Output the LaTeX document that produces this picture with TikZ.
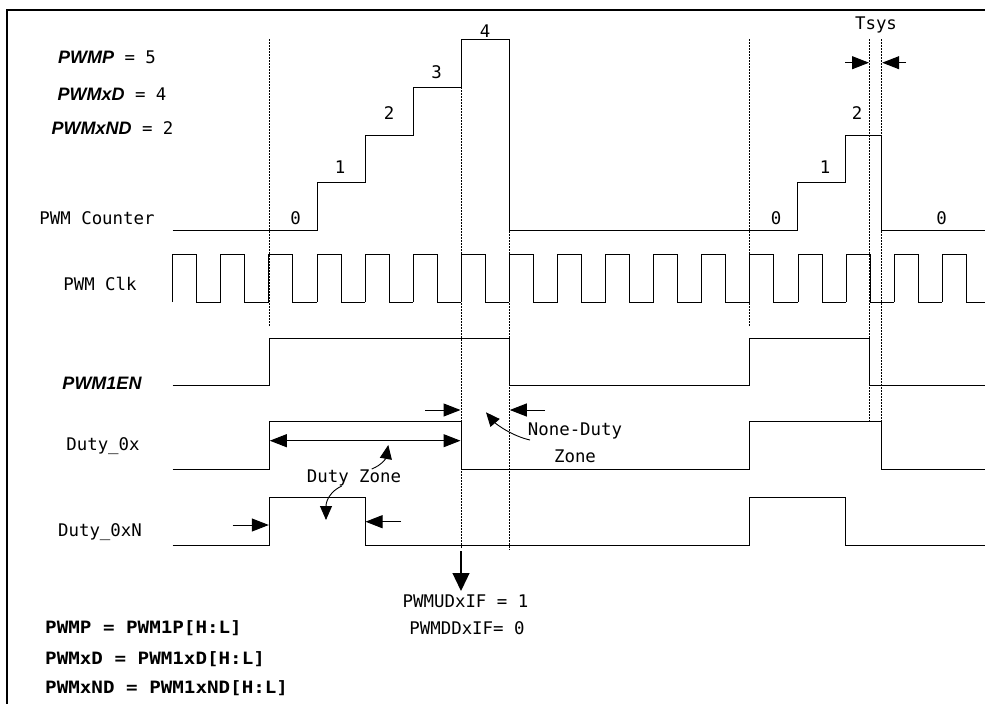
\documentclass[tikz,border=0pt]{standalone}
\usepackage{fontspec}
\setmainfont{DejaVu Sans Mono}
\newfontfamily\regfont{Liberation Sans}
\newfontfamily\defsfont[FakeStretch=1.13]{DejaVu Sans Mono}
\usetikzlibrary{arrows.meta}

\tikzset{
  sig/.style={line width=1pt, line join=miter},
  guide/.style={line width=0.7pt, dash pattern=on 1.6pt off 1.4pt},
  ptr/.style={line width=1pt, -{Triangle[length=17pt,width=13pt]}},
  ptrs/.style={line width=0.9pt, -{Triangle[length=14pt,width=12pt]}},
  txt/.style={font=\fontsize{17.4}{20}\selectfont, inner sep=0pt},
  regname/.style={font=\regfont\bfseries\itshape\fontsize{18}{20}\selectfont, inner sep=0pt}
}

\begin{document}
\begin{tikzpicture}[x=1pt, y=-1pt]
  \clip (0,0) rectangle (985,704);
  \draw[line width=1.6pt] (985,10) -- (7,10) -- (7,704);

  % register values
  \node[txt] (pwmp) at (107,57.3) {{\regfont\bfseries\itshape\fontsize{18}{20}\selectfont PWMP} = 5};
  \node[txt] (pwmxd) at (112,94.3) {{\regfont\bfseries\itshape\fontsize{18}{20}\selectfont PWMxD} = 4};
  \node[txt] (pwmxnd) at (112.5,128.3) {{\regfont\bfseries\itshape\fontsize{18}{20}\selectfont PWMxND} = 2};

  % signal names
  \node[txt] (lcnt) at (97,218) {PWM Counter};
  \node[txt] (lclk) at (100,284) {PWM Clk};
  \node[regname] (len) at (102,383) {PWM1EN};
  \node[txt] (ldo) at (103,445.7) {Duty\_0x};
  \node[txt] (ldon) at (100,532) {Duty\_0xN};

  % guide lines
  \draw[guide] (269.3,39.3) -- (269.3,326);
  \draw[guide] (461,39.3) -- (461,548);
  \draw[guide] (509.3,39.3) -- (509.3,550);
  \draw[guide] (749.3,39.3) -- (749.3,326);
  \draw[guide] (869.5,39.3) -- (869.5,421.7);
  \draw[guide] (881.7,39.3) -- (881.7,421.7);

  % counter
  \draw[sig] (172.7,230) -- (317,230) -- (317,182.7) -- (365,182.7) -- (365,135)
    -- (413,135) -- (413,87.3) -- (461,87.3) -- (461,39.3) -- (509.3,39.3)
    -- (509.3,230) -- (797.5,230) -- (797.5,182.7) -- (845.7,182.7) -- (845.7,135)
    -- (881.7,135) -- (881.7,230) -- (985,230);
  \begin{scope}[every node/.style={txt}]
    \node (c0) at (295.7,218) {0};
    \node (c1) at (340,166.7) {1};
    \node (c2) at (389,113) {2};
    \node (c3) at (436.7,71.7) {3};
    \node (c4) at (485,31) {4};
    \node (d0) at (776,218) {0};
    \node (d1) at (825,167) {1};
    \node (d2) at (857,113) {2};
    \node (e0) at (941.7,218) {0};
    \node (tsys) at (876,25) {Tsys};
  \end{scope}

  % clock
  \foreach \k in {0,...,16}
    \draw[sig] ({172.7+48.1*\k},302) -- ({172.7+48.1*\k},254.7) -- ({196.7+48.1*\k},254.7)
      -- ({196.7+48.1*\k},302) -- ({220.8+48.1*\k},302);

  % PWM1EN
  \draw[sig] (172.7,385.7) -- (269.3,385.7) -- (269.3,338) -- (509.3,338) -- (509.3,385.7)
    -- (749.3,385.7) -- (749.3,338) -- (869.5,338) -- (869.5,385.7) -- (985,385.7);
  % Duty_0x
  \draw[sig] (172.7,469.3) -- (269.3,469.3) -- (269.3,421.7) -- (461,421.7) -- (461,469.3)
    -- (749.3,469.3) -- (749.3,421.7) -- (881.7,421.7) -- (881.7,469.3) -- (985,469.3);
  % Duty_0xN
  \draw[sig] (172.7,545) -- (269.3,545) -- (269.3,497.5) -- (365,497.5) -- (365,545)
    -- (749.3,545) -- (749.3,497.5) -- (845.7,497.5) -- (845.7,545) -- (985,545);

  % Tsys marks
  \coordinate (ts1) at (845,62.7);
  \coordinate (ts2) at (869,62.7);
  \coordinate (ts3) at (906,62.7);
  \coordinate (ts4) at (882.2,62.7);
  \draw[ptr] (ts1) -- (ts2);
  \draw[ptr] (ts3) -- (ts4);

  % none-duty zone
  \coordinate (nd1) at (425,410);
  \coordinate (nd2) at (460.5,410);
  \coordinate (nd3) at (545,410);
  \coordinate (nd4) at (509.8,410);
  \draw[ptr] (nd1) -- (nd2);
  \draw[ptr] (nd3) -- (nd4);
  \node[txt] (ndz) at (575,430.7) {None-Duty};
  \node[txt] (ndz2) at (575,456.7) {Zone};
  \coordinate (ndc) at (530,440);
  \coordinate (ndt) at (486,412.3);
  \draw[ptrs] (ndc) .. controls (512,436) and (496,424) .. (ndt);

  % duty zone
  \coordinate (dz1) at (269.8,440.7);
  \coordinate (dz2) at (460.5,440.7);
  \draw[line width=1pt, {Triangle[length=17pt,width=13pt]}-{Triangle[length=17pt,width=13pt]}] (dz1) -- (dz2);
  \node[txt] (dzl) at (354,477.7) {Duty Zone};
  \coordinate (dza) at (371.7,469);
  \coordinate (dzb) at (388.3,445);
  \draw[ptrs] (dza) .. controls (382,465) and (386,458) .. (dzb);
  \coordinate (dzc) at (341.7,486);
  \coordinate (dzd) at (326,520);
  \draw[ptrs] (dzc) .. controls (331,491) and (326,500) .. (dzd);

  \coordinate (dn1) at (232.7,525);
  \coordinate (dn2) at (268.8,525);
  \coordinate (dn3) at (401,521.7);
  \coordinate (dn4) at (365.5,521.7);
  \draw[ptr] (dn1) -- (dn2);
  \draw[ptr] (dn3) -- (dn4);

  % flag
  \coordinate (fl1) at (461,551);
  \coordinate (fl2) at (461,591);
  \draw[line width=1.3pt, -{Triangle[length=18pt,width=17pt]}] (fl1) -- (fl2);
  \node[txt] (fud) at (465.5,601.7) {PWMUDxIF = 1};
  \node[txt] (fdd) at (467,628.3) {PWMDDxIF= 0};

  % definitions
  \begin{scope}[every node/.style={anchor=west, inner sep=0pt, font=\defsfont\bfseries\fontsize{17}{20}\selectfont}]
    \node (def1) at (45,628.3) {PWMP = PWM1P[H:L]};
    \node (def2) at (45,659.3) {PWMxD = PWM1xD[H:L]};
    \node (def3) at (45,688.3) {PWMxND = PWM1xND[H:L]};
  \end{scope}
\end{tikzpicture}
\end{document}
